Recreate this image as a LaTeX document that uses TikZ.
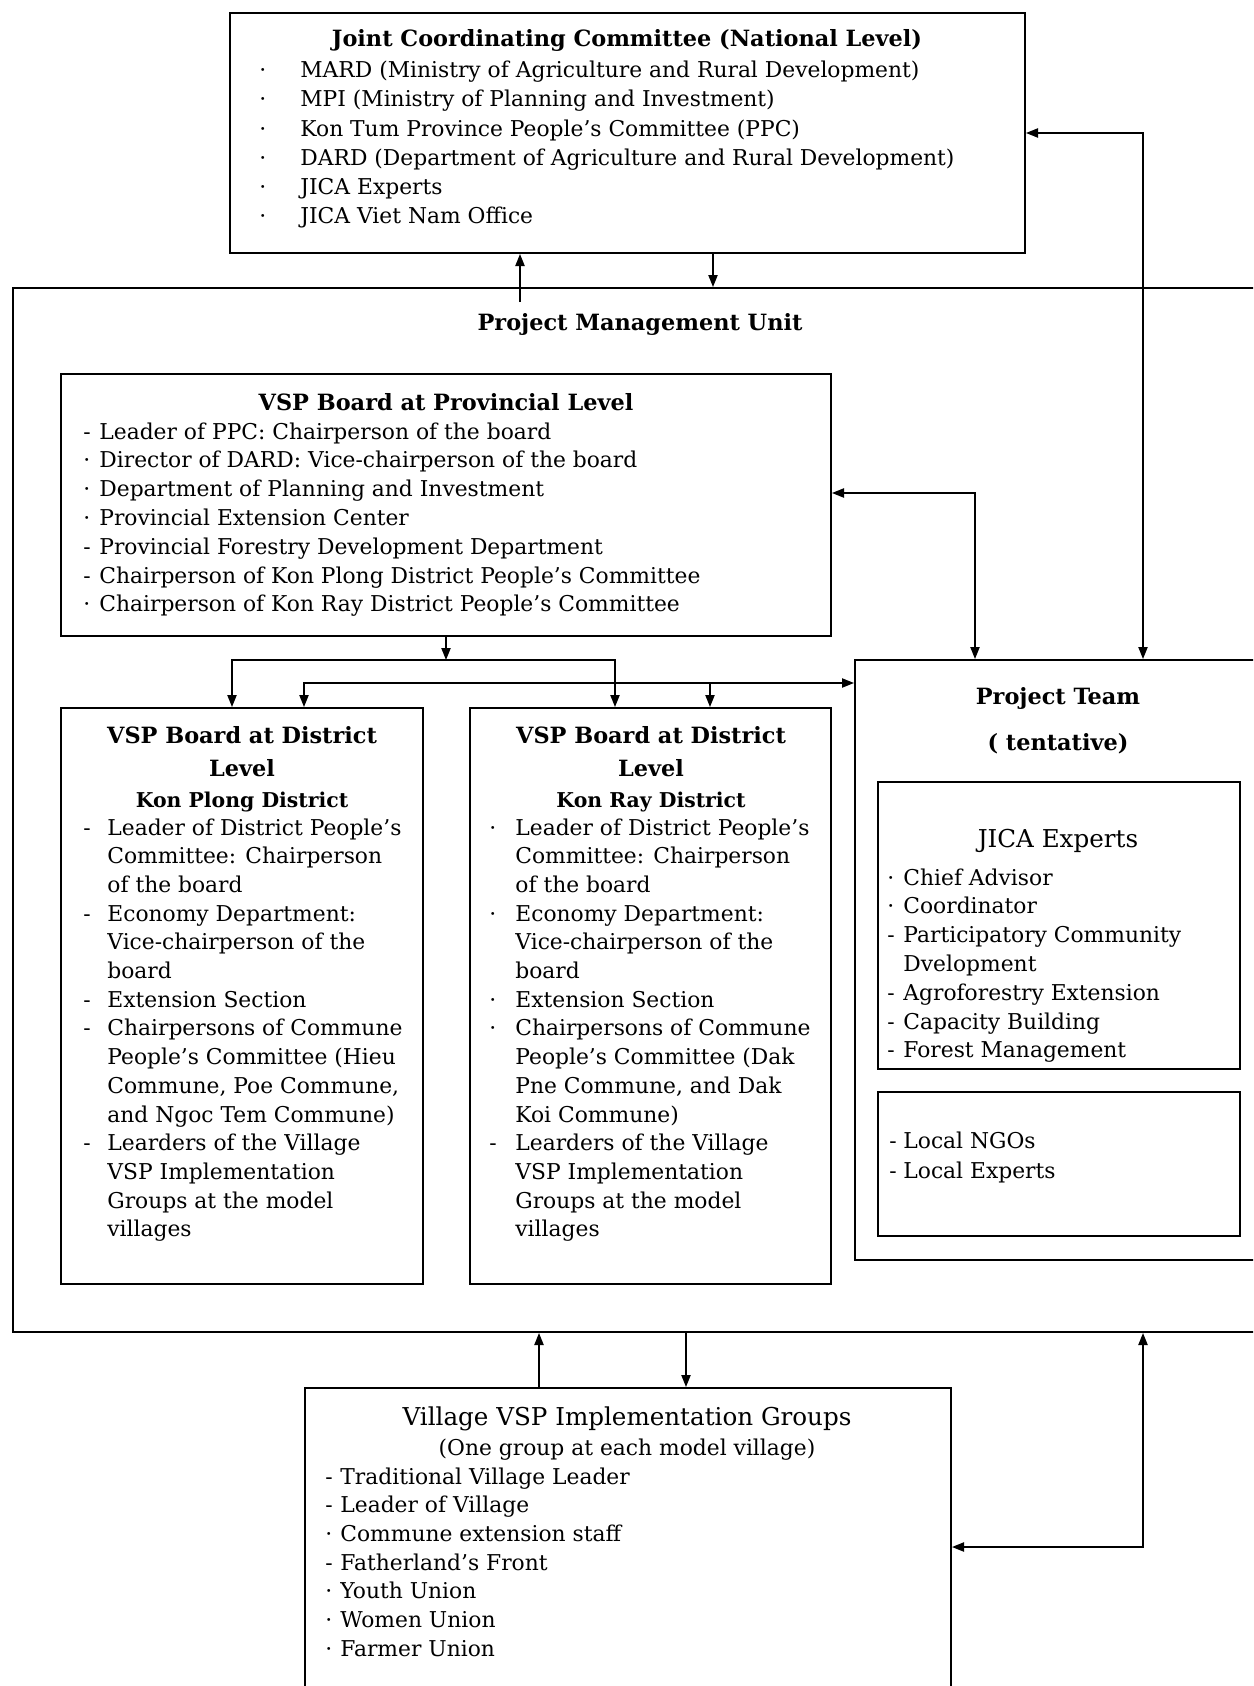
\documentclass[tikz,border=0pt]{standalone}
\usepackage{fontspec}
\setmainfont{DejaVu Serif}
\usetikzlibrary{arrows.meta,fit}
\newcommand\mk[2]{\makebox[#1][l]{#2}}
\newcommand\bodyfont{\fontsize{10.9}{13}\selectfont}
\newcommand\headfont{\fontsize{11.2}{13}\selectfont\bfseries}
\newcommand\subheadfont{\fontsize{10.2}{12}\selectfont\bfseries}
\newcommand\bigregfont{\fontsize{12.3}{14}\selectfont}
\begin{document}
\begin{tikzpicture}[x=0.5pt,y=-0.5pt,
  boxx/.style={draw, line width=1pt, inner sep=0pt},
  item/.style={anchor=base west, inner sep=0pt, font=\bodyfont},
  headtxt/.style={anchor=base, inner sep=0pt, font=\headfont},
  conn/.style={line width=0.8pt},
  >={Triangle[length=6pt,width=4.6pt]}]
\useasboundingbox (0,0) rectangle (1253,1686);
\clip (0,0) rectangle (1253,1686);
\fill[white] (0,0) rectangle (1253,1686);

% ---------- boxes ----------
\node[boxx, fit={(230,13) (1025,253)}] (jcc) {};
\node[boxx, fit={(13,288) (1300,1332)}] (pmu) {};
\node[boxx, fit={(61,374) (831,636)}] (prov) {};
\node[boxx, fit={(61,708) (423,1284)}] (kp) {};
\node[boxx, fit={(470,708) (831,1284)}] (kr) {};
\node[boxx, fit={(855,660) (1300,1260)}] (pt) {};
\node[boxx, fit={(878,782) (1240,1069)}] (jica) {};
\node[boxx, fit={(878,1092) (1240,1236)}] (local) {};
\node[boxx, fit={(305,1388) (951,1760)}] (vil) {};

% ---------- JCC ----------
\node[headtxt] (jcct) at (627,47) {Joint Coordinating Committee (National Level)};
\foreach \m/\t [count=\i from 0] in {·/{MARD (Ministry of Agriculture and Rural Development)}, ·/{MPI (Ministry of Planning and Investment)}, ·/{Kon Tum Province People's Committee (PPC)}, ·/{DARD (Department of Agriculture and Rural Development)}, ·/{JICA Experts}, ·/{JICA Viet Nam Office}}
  \node[item] (jccl\i) at (259,{78+29*\i}) {\mk{20.5pt}{\m}\t};

% ---------- PMU ----------
\node[headtxt] (pmut) at (640,330) {Project Management Unit};

% ---------- Provincial ----------
\node[headtxt] (provt) at (446,410) {VSP Board at Provincial Level};
\foreach \m/\t [count=\i from 0] in {-/{Leader of PPC: Chairperson of the board}, ·/{Director of DARD: Vice-chairperson of the board}, ·/{Department of Planning and Investment}, ·/{Provincial Extension Center}, -/{Provincial Forestry Development Department}, -/{Chairperson of Kon Plong District People's Committee}, ·/{Chairperson of Kon Ray District People's Committee}}
  \node[item] (provl\i) at (83,{439+28.8*\i}) {\mk{8pt}{\m}\t};

% ---------- Kon Plong ----------
\node[headtxt] (kpt1) at (242,743) {VSP Board at District};
\node[headtxt] (kpt2) at (242,776) {Level};
\node[headtxt, font=\subheadfont] (kpt3) at (242,807) {Kon Plong District};
\foreach \m/\t [count=\i from 0] in {-/{Leader of District People's}, {}/{Committee: Chairperson}, {}/{of the board}, -/{Economy Department:}, {}/{Vice-chairperson of the}, {}/{board}, -/{Extension Section}, -/{Chairpersons of Commune}, {}/{People's Committee (Hieu}, {}/{Commune, Poe Commune,}, {}/{and Ngoc Tem Commune)}, -/{Learders of the Village}, {}/{VSP Implementation}, {}/{Groups at the model}, {}/{villages}}
  \node[item] (kpl\i) at (83,{835+28.7*\i}) {\mk{12pt}{\m}\t};

% ---------- Kon Ray ----------
\node[headtxt] (krt1) at (651,743) {VSP Board at District};
\node[headtxt] (krt2) at (651,776) {Level};
\node[headtxt, font=\subheadfont] (krt3) at (651,807) {Kon Ray District};
\foreach \m/\t [count=\i from 0] in {·/{Leader of District People's}, {}/{Committee: Chairperson}, {}/{of the board}, ·/{Economy Department:}, {}/{Vice-chairperson of the}, {}/{board}, ·/{Extension Section}, ·/{Chairpersons of Commune}, {}/{People's Committee (Dak}, {}/{Pne Commune, and Dak}, {}/{Koi Commune)}, -/{Learders of the Village}, {}/{VSP Implementation}, {}/{Groups at the model}, {}/{villages}}
  \node[item] (krl\i) at (489,{835+28.7*\i}) {\mk{13pt}{\m}\t};

% ---------- Project Team ----------
\node[headtxt] (ptt1) at (1058,704) {Project Team};
\node[headtxt] (ptt2) at (1058,750) {( tentative)};
\node[headtxt, font=\bigregfont] (jicat) at (1058,847) {JICA Experts};
\foreach \m/\t [count=\i from 0] in {·/{Chief Advisor}, ·/{Coordinator}, -/{Participatory Community}, {}/{Dvelopment}, -/{Agroforestry Extension}, -/{Capacity Building}, -/{Forest Management}}
  \node[item] (jical\i) at (887,{885+28.8*\i}) {\mk{8pt}{\m}\t};
\node[item] (locl0) at (889,1148) {\mk{7pt}{-}Local NGOs};
\node[item] (locl1) at (889,1178) {\mk{7pt}{-}Local Experts};

% ---------- Village ----------
\node[anchor=base, inner sep=0pt, font=\bigregfont] (vilt1) at (627,1425) {Village VSP Implementation Groups};
\node[anchor=base, inner sep=0pt, font=\bodyfont] (vilt2) at (627,1455) {(One group at each model village)};
\foreach \m/\t [count=\i from 0] in {-/{Traditional Village Leader}, -/{Leader of Village}, ·/{Commune extension staff}, -/{Fatherland's Front}, ·/{Youth Union}, ·/{Women Union}, ·/{Farmer Union}}
  \node[item] (vill\i) at (325,{1484+28.7*\i}) {\mk{7.5pt}{\m}\t};

% ---------- connectors ----------
\coordinate (u1) at (520,302);
\coordinate (d1) at (713,270);
\draw[conn,->] (u1) -- (u1 |- jcc.south);
\draw[conn,->] (d1 |- jcc.south) -- (d1 |- pmu.north);

\coordinate (r1) at (1143,133);
\draw[conn,<->] (r1 -| jcc.east) -- (r1) -- (r1 |- pt.north);

\coordinate (r2) at (975,493);
\draw[conn,<->] (r2 -| prov.east) -- (r2) -- (r2 |- pt.north);

\coordinate (h1) at (446,660);
\coordinate (a1) at (232,660);
\coordinate (a2) at (615,660);
\draw[conn,->] (h1 |- prov.south) -- (h1);
\draw[conn,<->] (a1 |- kp.north) -- (a1) -- (a2) -- (a2 |- kr.north);

\coordinate (b1) at (304,683);
\coordinate (b2) at (710,683);
\draw[conn,<->] (b1 |- kp.north) -- (b1) -- (b1 -| pt.west);
\draw[conn,->] (b2) -- (b2 |- kr.north);

\coordinate (v1) at (539,1360);
\coordinate (v2) at (686,1360);
\draw[conn,->] (v1 |- vil.north) -- (v1 |- pmu.south);
\draw[conn,->] (v2 |- pmu.south) -- (v2 |- vil.north);

\coordinate (r3) at (1143,1547);
\draw[conn,<->] (r3 |- pmu.south) -- (r3) -- (r3 -| vil.east);
\end{tikzpicture}
\end{document}
